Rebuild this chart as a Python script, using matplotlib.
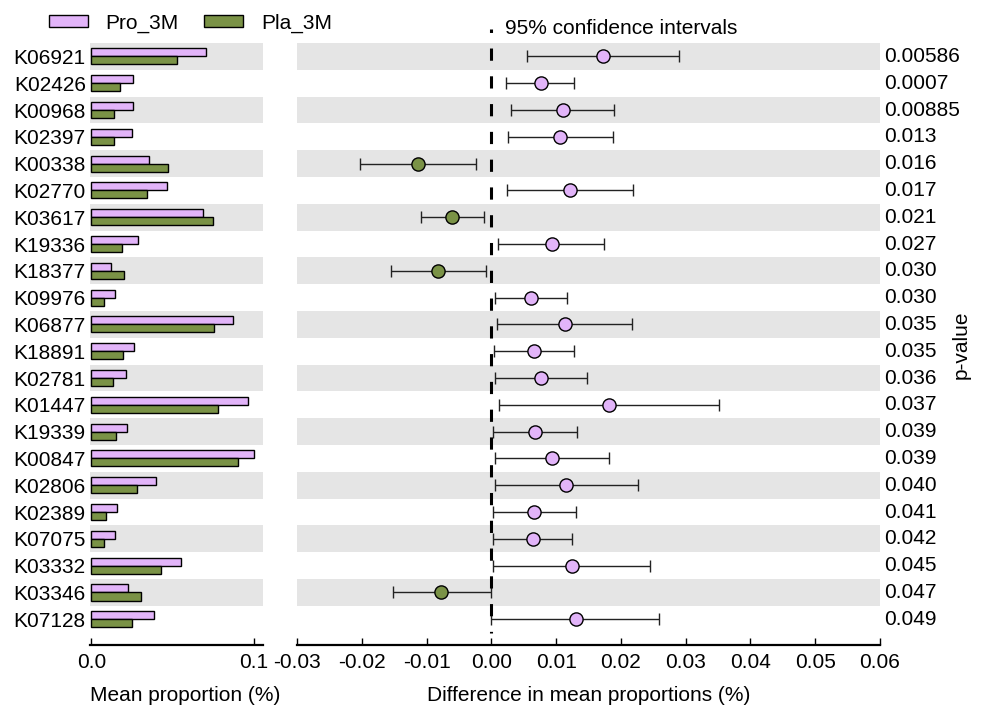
#!/usr/bin/env python3
"""
Extended error bar plot: KEGG orthologs that differ between Pro_3M and Pla_3M.
Left panel: mean proportions per group. Right panel: difference in mean
proportions with 95% confidence intervals, p-values on the right.
"""

import numpy as np
import matplotlib
matplotlib.use('Agg')
import matplotlib.pyplot as plt
from matplotlib.patches import Patch

# ---- data ----
kos = ['K06921', 'K02426', 'K00968', 'K02397', 'K00338', 'K02770', 'K03617',
       'K19336', 'K18377', 'K09976', 'K06877', 'K18891', 'K02781', 'K01447',
       'K19339', 'K00847', 'K02806', 'K02389', 'K07075', 'K03332', 'K03346',
       'K07128']
pro_mean = [0.0705, 0.0254, 0.0254, 0.0252, 0.0356, 0.0465, 0.0689, 0.0289,
            0.0118, 0.0146, 0.0868, 0.0264, 0.0215, 0.0965, 0.0221, 0.0998,
            0.0396, 0.0160, 0.0145, 0.0553, 0.0226, 0.0384]
pla_mean = [0.0526, 0.0177, 0.0140, 0.0142, 0.0471, 0.0340, 0.0750, 0.0191,
            0.0201, 0.0081, 0.0752, 0.0195, 0.0136, 0.0780, 0.0152, 0.0902,
            0.0279, 0.0093, 0.0077, 0.0427, 0.0305, 0.0252]
diff = [0.0172, 0.0076, 0.0110, 0.0106, -0.0113, 0.0122, -0.0060, 0.0093,
        -0.0082, 0.0062, 0.0113, 0.0066, 0.0077, 0.0182, 0.0068, 0.0093,
        0.0115, 0.0066, 0.0064, 0.0124, -0.0077, 0.0130]
ci_low = [0.0055, 0.0023, 0.0030, 0.0025, -0.0203, 0.0024, -0.0109, 0.0011,
          -0.0155, 0.0006, 0.0008, 0.0004, 0.0005, 0.0012, 0.0003, 0.0005,
          0.0006, 0.0002, 0.0002, 0.0002, -0.0152, 0.0000]
ci_high = [0.0290, 0.0128, 0.0190, 0.0188, -0.0023, 0.0219, -0.0011, 0.0174,
           -0.0009, 0.0117, 0.0217, 0.0127, 0.0148, 0.0351, 0.0133, 0.0182,
           0.0226, 0.0131, 0.0125, 0.0245, -0.0001, 0.0259]
p_values = ['0.00586', '0.0007', '0.00885', '0.013', '0.016', '0.017', '0.021',
            '0.027', '0.030', '0.030', '0.035', '0.035', '0.036', '0.037',
            '0.039', '0.039', '0.040', '0.041', '0.042', '0.045', '0.047',
            '0.049']
groups = ['Pro_3M', 'Pla_3M']

PRO_COLOR = '#E2B4F9'
PLA_COLOR = '#7A9246'
BAND_COLOR = '#E5E5E5'
FS = 15

plt.rcParams['font.family'] = ['Liberation Sans', 'DejaVu Sans']
plt.rcParams['font.size'] = FS
plt.rcParams['lines.scale_dashes'] = False

W, H = 983, 706


def draw_bands(ax, n):
    """Grey band behind every other row."""
    for i in range(0, n, 2):
        ax.axhspan(i - 0.5, i + 0.5, color=BAND_COLOR, lw=0, zorder=0)


def style_bottom_axis(ax):
    for side in ('top', 'right', 'left'):
        ax.spines[side].set_visible(False)
    ax.spines['bottom'].set_linewidth(1.6)
    ax.tick_params(axis='x', direction='in', length=5, width=1, pad=6,
                   labelsize=FS)


def main():
    n = len(kos)
    y = np.arange(n)

    fig = plt.figure(figsize=(W / 100, H / 100), dpi=100)
    ax_l = fig.add_axes([90 / W, 1 - 645 / H, 173 / W, 602 / H])
    ax_r = fig.add_axes([297 / W, 1 - 645 / H, 583 / W, 602 / H])

    # left panel: mean proportions
    draw_bands(ax_l, n)
    ax_l.barh(y - 0.15, pro_mean, height=0.3, color=PRO_COLOR,
              edgecolor='black', linewidth=1, zorder=2)
    ax_l.barh(y + 0.15, pla_mean, height=0.3, color=PLA_COLOR,
              edgecolor='black', linewidth=1, zorder=2)
    ax_l.set_ylim(21.96, -0.5)
    ax_l.set_xlim(-0.0008, 0.1055)
    ax_l.set_yticks(y)
    ax_l.set_yticklabels(kos)
    ax_l.tick_params(axis='y', length=0, pad=3, labelsize=FS)
    ax_l.set_xticks([0, 0.1])
    ax_l.set_xticklabels(['0.0', '0.1'])
    style_bottom_axis(ax_l)
    ax_l.set_xlabel('Mean proportion (%)', labelpad=10)
    ax_l.xaxis.label.set_x(0.55)

    # right panel: difference with CI
    draw_bands(ax_r, n)
    for i in range(n):
        c = PRO_COLOR if diff[i] > 0 else PLA_COLOR
        ax_r.errorbar(diff[i], i,
                      xerr=[[diff[i] - ci_low[i]], [ci_high[i] - diff[i]]],
                      fmt='o', color=c, mec='black', mew=1, ms=9.5,
                      ecolor='#222222', elinewidth=1, capsize=4.5,
                      capthick=1, zorder=3)
    ax_r.plot([0, 0], [-1.02, 21.5], color='black', lw=2.2,
              linestyle=(6.3, (8.8, 11.2)), clip_on=False, zorder=4)
    ax_r.set_ylim(21.96, -0.5)
    ax_r.set_xlim(-0.03, 0.06)
    ticks = np.arange(-3, 7) / 100
    ax_r.set_xticks(ticks)
    ax_r.set_xticklabels([f'{t:.2f}' for t in ticks])
    ax_r.set_yticks([])
    style_bottom_axis(ax_r)
    ax_r.set_xlabel('Difference in mean proportions (%)', labelpad=10)

    # p-values
    for i, p in enumerate(p_values):
        ax_r.text(1.007, i, p, transform=ax_r.get_yaxis_transform(),
                  ha='left', va='center', fontsize=FS)
    fig.text(961 / W, 1 - 345 / H, 'p-value', rotation=90,
             ha='center', va='center', fontsize=FS)

    fig.text(505 / W, 1 - 28 / H, '95% confidence intervals',
             ha='left', va='center', fontsize=FS)

    handles = [Patch(facecolor=PRO_COLOR, edgecolor='black', lw=1),
               Patch(facecolor=PLA_COLOR, edgecolor='black', lw=1)]
    fig.legend(handles, groups, loc='center left',
               bbox_to_anchor=(49 / W, 1 - 23 / H), ncol=2, frameon=False,
               handlelength=1.87, handleheight=0.56, handletextpad=0.84,
               columnspacing=1.23, borderpad=0, borderaxespad=0, fontsize=FS)

    fig.savefig('out.png', dpi=100)


if __name__ == '__main__':
    main()
